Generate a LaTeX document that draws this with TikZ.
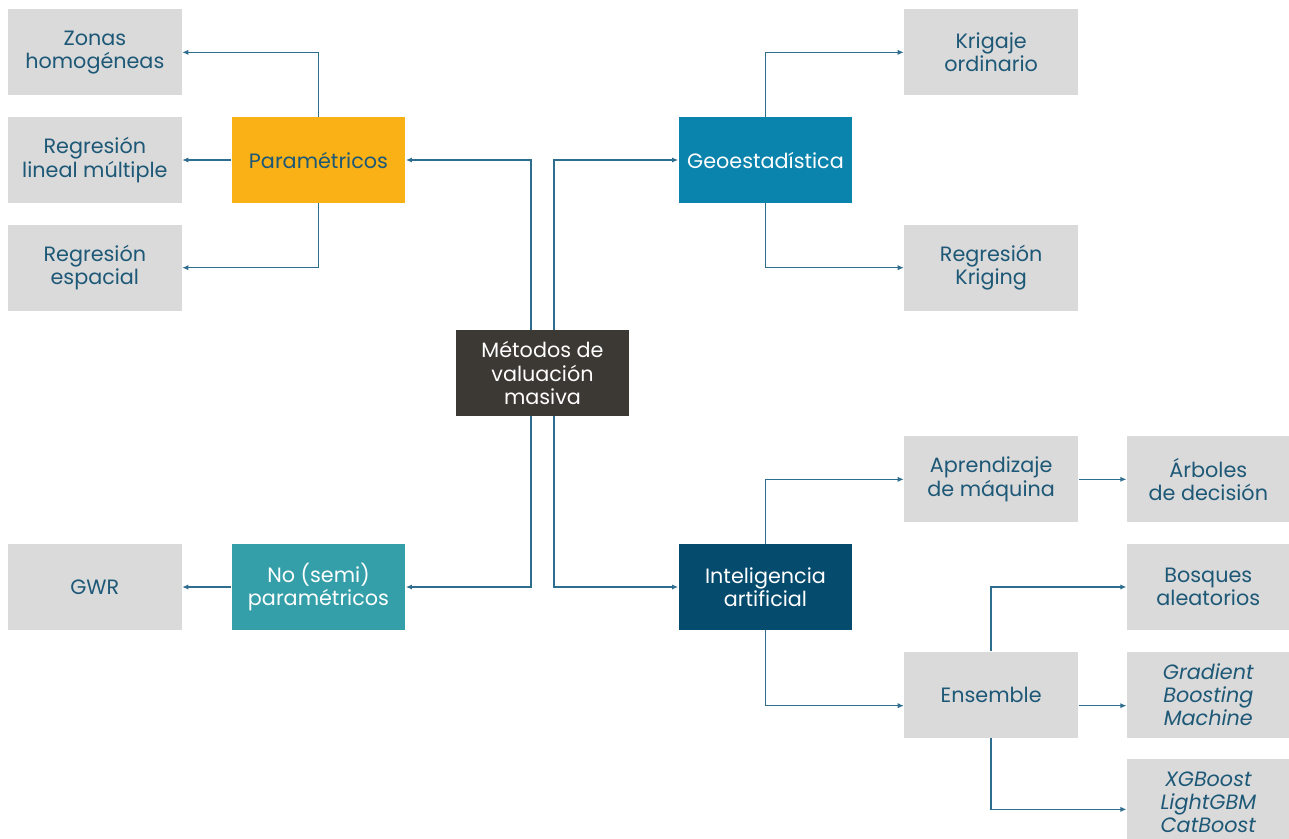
\documentclass[tikz,border=0pt]{standalone}
\usepackage{fontspec}
\setmainfont{Poppins}
\usetikzlibrary{positioning}
\usetikzlibrary{arrows.meta}

\definecolor{ctext}{HTML}{1D5877}
\definecolor{cline}{HTML}{2F6D8E}
\definecolor{cleaf}{HTML}{DADADA}
\definecolor{croot}{HTML}{3C3934}
\definecolor{cparam}{HTML}{F9B115}
\definecolor{cgeo}{HTML}{0A83AD}
\definecolor{csemi}{HTML}{349FA9}
\definecolor{cia}{HTML}{054B6E}

\begin{document}
\begin{tikzpicture}[
    x=0.02cm, y=-0.02cm,
    font=\fontsize{11.8}{13.2}\selectfont,
    box/.style={align=center, rectangle, inner sep=0pt, minimum width=3.48cm, minimum height=1.72cm},
    leaf/.style={box, fill=cleaf, text=ctext},
    leafr/.style={leaf, minimum width=3.26cm},
    link/.style={draw=cline, line width=0.85pt, -{Latex[length=3.5pt,width=3pt]}}
]
    \useasboundingbox (0,0) rectangle (1289,839);

    \node[box, fill=croot, text=white] (M) at (542.5,373) {Métodos de\\valuación\\masiva};

    \node[box, fill=cparam, text=ctext] (P) at (318.5,160) {Paramétricos};
    \node[box, fill=cgeo, text=white] (G) at (765.5,160) {Geoestadística};
    \node[box, fill=csemi, text=white] (N) at (318.5,587) {No (semi)\\paramétricos};
    \node[box, fill=cia, text=white] (IA) at (765.5,587) {Inteligencia\\artificial};

    \node[leaf] (Z) [above left=0.42cm and 0.98cm of P] {Zonas\\homogéneas};
    \node[leaf] (RL) [left=0.98cm of P] {Regresión\\lineal múltiple};
    \node[leaf] (RE) [below left=0.42cm and 0.98cm of P] {Regresión\\espacial};

    \node[leaf] (K) [above right=0.42cm and 1.02cm of G] {Krigaje\\ordinario};
    \node[leaf] (RK) [below right=0.42cm and 1.02cm of G] {Regresión\\Kriging};

    \node[leaf] (GWR) [left=0.98cm of N] {GWR};

    \node[leaf] (AM) [above right=0.42cm and 1.02cm of IA] {Aprendizaje\\de máquina};
    \node[leaf] (E) [below right=0.42cm and 1.02cm of IA] {Ensemble};
    \node[leafr] (AR) [right=0.96cm of AM] {Árboles\\de decisión};
    \node[leafr] (B) [above right=0.42cm and 0.96cm of E] {Bosques\\aleatorios};
    \node[leafr] (GB) [right=0.96cm of E] {\itshape Gradient\\\itshape Boosting\\\itshape Machine};
    \node[leafr] (XG) [below right=0.42cm and 0.96cm of E] {\itshape XGBoost\\\itshape LightGBM\\\itshape CatBoost};

    % root to the four groups
    \draw[link] ([xshift=-0.23cm]M.north) |- (P.east);
    \draw[link] ([xshift=0.23cm]M.north) |- (G.west);
    \draw[link] ([xshift=-0.23cm]M.south) |- (N.east);
    \draw[link] ([xshift=0.23cm]M.south) |- (IA.west);

    % groups to methods
    \draw[link] (P.north) |- (Z.east);
    \draw[link] (P.west) -- (RL.east);
    \draw[link] (P.south) |- (RE.east);

    \draw[link] (G.north) |- (K.west);
    \draw[link] (G.south) |- (RK.west);

    \draw[link] (N.west) -- (GWR.east);

    \draw[link] (IA.north) |- (AM.west);
    \draw[link] (IA.south) |- ([yshift=-0.22cm]E.west);
    \draw[link] (AM.east) -- (AR.west);

    \draw[link] (E.north) |- (B.west);
    \draw[link] ([yshift=-0.22cm]E.east) -- ([yshift=-0.22cm]GB.west);
    \draw[link] (E.south) |- ([yshift=-0.14cm]XG.west);

\end{tikzpicture}
\end{document}
